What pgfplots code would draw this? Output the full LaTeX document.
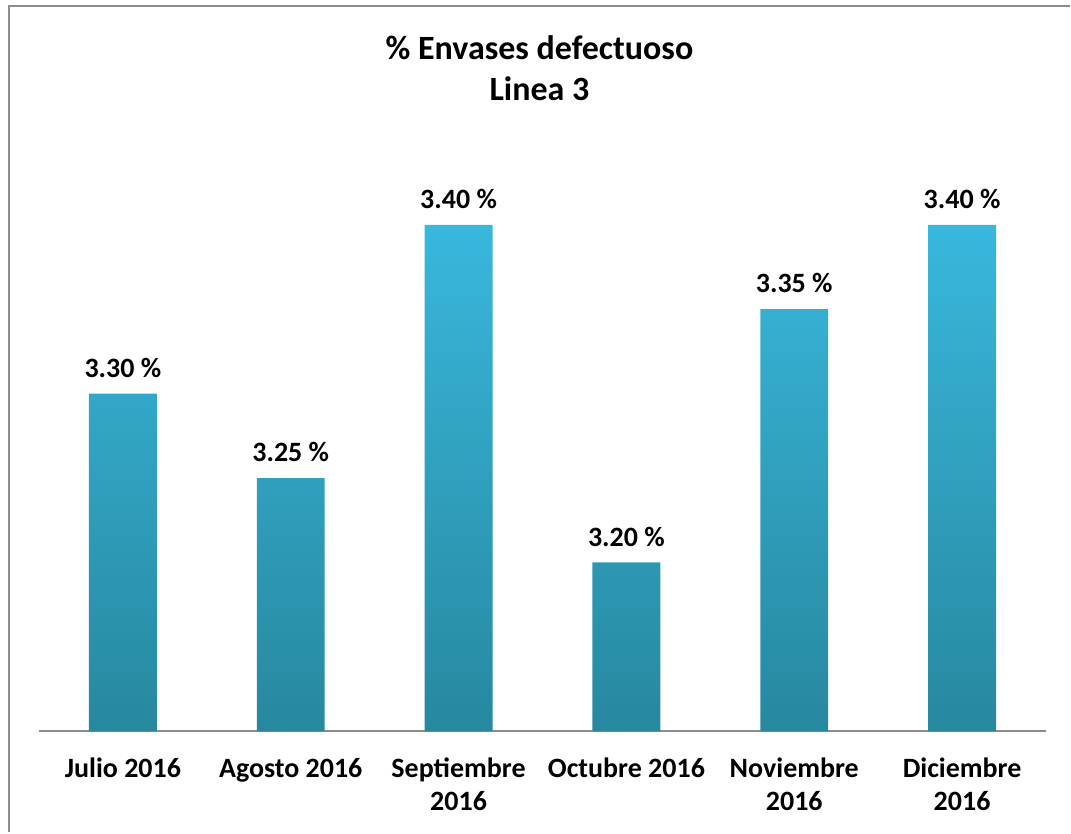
\documentclass[border=0pt]{standalone}
\usepackage{fontspec}
\setmainfont{Carlito}
\usepackage{pgfplots}
\pgfplotsset{compat=1.18}

\definecolor{bartop}{HTML}{39B7DC}
\definecolor{barbot}{HTML}{27889F}
\definecolor{framegray}{HTML}{8C8C8C}

\begin{document}
\begin{tikzpicture}
\begin{axis}[
    scale only axis,
    width=504pt, height=338pt,
    xmin=-0.5, xmax=5.5,
    ymin=3.1, ymax=3.5,
    axis y line=none,
    axis x line*=bottom,
    x axis line style={draw=framegray, line width=1pt, -},
    xtick=data,
    xticklabels={{\strut Julio 2016}, {\strut Agosto 2016}, {\strut Septiembre\\\strut 2016}, {\strut Octubre 2016}, {\strut Noviembre\\\strut 2016}, {\strut Diciembre\\\strut 2016}},
    xticklabel style={font=\fontsize{14}{16.5}\selectfont\bfseries, align=center, anchor=north, yshift=-8pt},
    major tick length=0pt,
    ybar, bar width=34pt,
    nodes near coords={\pgfmathprintnumber[fixed, fixed zerofill, precision=2, assume math mode=true]{\pgfplotspointmeta}~\%},
    every node near coord/.append style={font=\fontsize{14}{16}\selectfont\bfseries, anchor=south, yshift=4.5pt},
    clip=false,
]
\addplot[bar shift=0pt, draw=none, top color=bartop, bottom color=barbot] coordinates {
    (0,3.30) (1,3.25) (2,3.40) (3,3.20) (4,3.35) (5,3.40)
};
\coordinate (sw) at (rel axis cs:0,0);
\coordinate (ne) at (rel axis cs:1,1);
\node[align=center, font=\fontsize{17}{20.5}\selectfont\bfseries, anchor=center] at ([yshift=-6pt]rel axis cs:0.497,1) {\% Envases defectuoso\\Linea 3};
\end{axis}
\draw[framegray, line width=1pt] ([xshift=-14.75pt,yshift=-50.5pt]sw) -- ([xshift=-14.75pt,yshift=24.75pt]sw |- ne) -- ([xshift=12pt,yshift=24.75pt]ne);
\useasboundingbox ([xshift=-19.5pt,yshift=-50.5pt]sw) rectangle ([xshift=12pt,yshift=28pt]ne);
\end{tikzpicture}
\end{document}
